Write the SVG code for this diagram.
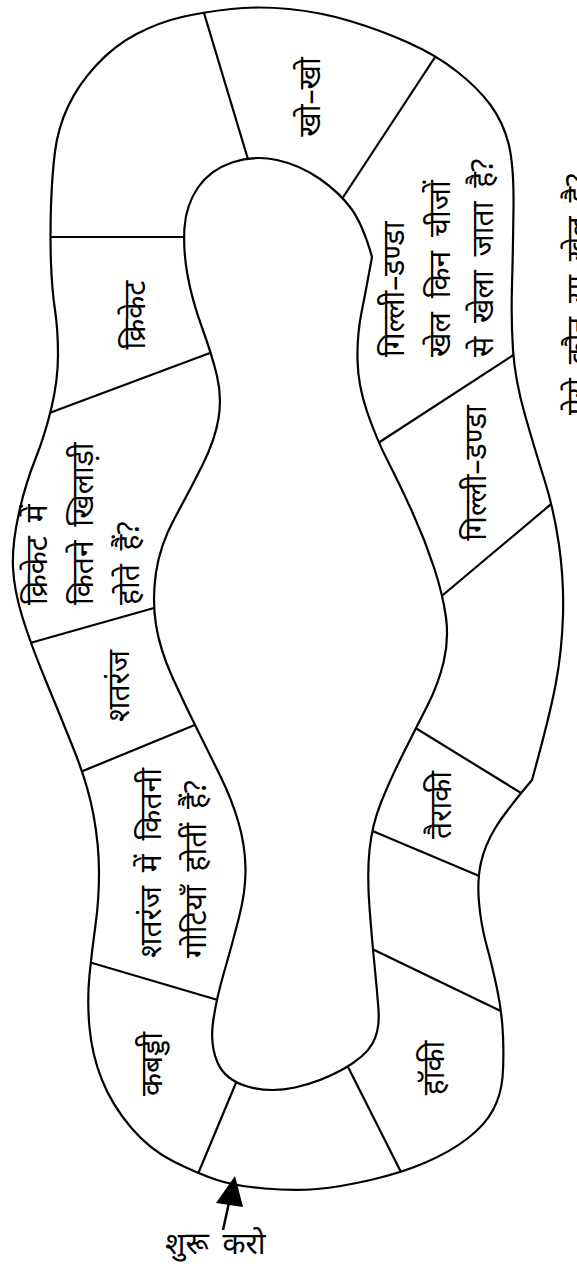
<svg xmlns="http://www.w3.org/2000/svg" width="577" height="1271" viewBox="0 0 577 1271">
<style>
.ln{fill:none;stroke:#000;stroke-width:2.2;stroke-linejoin:round;stroke-linecap:butt}
.isl{fill:#fff;stroke:#000;stroke-width:2.2;stroke-linejoin:round}
.t{font-family:"Noto Sans","DejaVu Sans",sans-serif;font-size:30px;word-spacing:6px;fill:#000}
.m{text-anchor:middle}
</style>
<defs>
<path id="outer" d="M 51,263.5 Q 50,237 51,206 Q 52,175 55,151.5 Q 58,128 68,106.5 Q 78,85 96.5,65 Q 115,45 137.5,33.5 Q 160,22 182,17 Q 204,12 231,9 Q 258,6 289,9 Q 320,12 350,21 Q 380,30 408,42.5 Q 436,55 457,71.5 Q 478,88 490.5,105 Q 503,122 508.5,143.5 Q 514,165 513.5,207.5 Q 513,250 512,285 Q 511,320 513,350 Q 515,380 525,415 Q 535,450 544.5,480 Q 554,510 559,545 Q 564,580 563,615 Q 562,650 556,682.5 Q 550,715 532,780 Q 505,812 495,828.5 Q 485,845 481,862.5 Q 477,880 479,902.5 Q 481,925 486.5,945 Q 492,965 497,988.5 Q 502,1012 503,1036 Q 504,1060 502.5,1077.5 Q 501,1095 493,1110 Q 485,1125 467.5,1138.5 Q 450,1152 425.5,1162.5 Q 401,1173 370.5,1180 Q 340,1187 317,1189 Q 294,1191 264.5,1188.5 Q 235,1186 217,1180 Q 199,1174 174.5,1162 Q 150,1150 131,1127.5 Q 112,1105 102,1080 Q 92,1055 89.5,1027.5 Q 87,1000 89.5,975 Q 92,950 95.5,925 Q 99,900 99,872.5 Q 99,845 93.5,815 Q 88,785 74,750 Q 60,715 45.5,680 Q 31,645 22.5,617.5 Q 14,590 13,567.5 Q 12,545 18.5,515 Q 25,485 35,460 Q 45,435 51.5,407.5 Q 58,380 58,355 Q 58,330 55,310 Q 52,290 51,263.5 Z"/>
<clipPath id="ring"><use href="#outer"/></clipPath>
</defs>
<rect width="577" height="1271" fill="#fff"/>
<g id="connectors" clip-path="url(#ring)" class="ln">
<line x1="40" y1="237" x2="195" y2="237"/>
<line x1="201" y1="3" x2="250" y2="166"/>
<line x1="441" y1="48" x2="338" y2="205"/>
<line x1="44" y1="415" x2="218" y2="350"/>
<line x1="23" y1="645" x2="161" y2="606"/>
<line x1="78" y1="773" x2="202" y2="722"/>
<line x1="82" y1="960" x2="228" y2="1003"/>
<line x1="195" y1="1181" x2="238" y2="1078"/>
<line x1="345" y1="1061" x2="405" y2="1180"/>
<line x1="368" y1="947" x2="509" y2="1015"/>
<line x1="363" y1="827" x2="484" y2="878"/>
<line x1="409" y1="724" x2="526" y2="796"/>
<line x1="437" y1="600" x2="556" y2="500"/>
<line x1="372" y1="447" x2="518" y2="352"/>
</g>
<g id="track">
<use href="#outer" class="ln"/>
<path id="island" class="isl" d="M 277,160 Q 300,165 320,179 Q 340,193 351.5,209 Q 363,225 372,257 Q 366,290 361.5,312.5 Q 357,335 357.5,360 Q 358,385 367,411.5 Q 376,438 388,461.5 Q 400,485 412.5,512.5 Q 425,540 434,567.5 Q 443,595 446,617.5 Q 449,640 443.5,662.5 Q 438,685 427,706.5 Q 416,728 403,754 Q 390,780 381,802.5 Q 372,825 369.5,850 Q 367,875 369.5,907.5 Q 372,940 374.5,965 Q 377,990 378.5,1010 Q 380,1030 372.5,1043.5 Q 365,1057 342.5,1069.5 Q 320,1082 295,1087.5 Q 270,1093 247.5,1086.5 Q 225,1080 217.5,1062.5 Q 210,1045 213,1022.5 Q 216,1000 224,972.5 Q 232,945 239,917.5 Q 246,890 245.5,867.5 Q 245,845 238.5,822.5 Q 232,800 221,777.5 Q 210,755 197.5,730 Q 185,705 172.5,677.5 Q 160,650 156,625 Q 152,600 156,572.5 Q 160,545 175,517.5 Q 190,490 202.5,465 Q 215,440 218.5,418.5 Q 222,397 217,376 Q 212,355 202,327.5 Q 192,300 187.5,275 Q 183,250 184.5,227.5 Q 186,205 198,187.5 Q 210,170 232,162.5 Q 254,155 277,160 Z"/>
</g>
<g id="cell-khokho"><text class="t m" transform="translate(320,97) rotate(-90)">खो–खो</text></g>
<g id="cell-cricket"><text class="t m" transform="translate(145,315) rotate(-90)">क्रिकेट</text></g>
<g id="cell-cricket-q"><text class="t" transform="translate(47,605) rotate(-90)"><tspan x="0" y="0">क्रिकेट में</tspan><tspan x="0" y="46">कितने खिलाड़ी</tspan><tspan x="0" y="92">होते हैं?</tspan></text></g>
<g id="cell-shatranj"><text class="t m" transform="translate(129,686) rotate(-90)">शतरंज</text></g>
<g id="cell-shatranj-q"><text class="t" transform="translate(161,958) rotate(-90)"><tspan x="0" y="0">शतरंज में कितनी</tspan><tspan x="0" y="45">गोटियाँ होतीं हैं?</tspan></text></g>
<g id="cell-kabaddi"><text class="t m" transform="translate(162,1064) rotate(-90)">कबड्डी</text></g>
<g id="cell-hockey"><text class="t m" transform="translate(444,1068) rotate(-90)">हॉकी</text></g>
<g id="cell-tairaki"><text class="t m" transform="translate(451,805) rotate(-90)">तैराकी</text></g>
<g id="cell-gilli"><text class="t m" transform="translate(486,473) rotate(-90)">गिल्ली–डण्डा</text></g>
<g id="cell-gilli-q"><text class="t" transform="translate(404,357) rotate(-90)"><tspan x="0" y="0">गिल्ली–डण्डा</tspan><tspan x="0" y="46">खेल किन चीजों</tspan><tspan x="0" y="89">से खेला जाता है?</tspan></text></g>
<g id="edge-note"><text class="t" transform="translate(588,415) rotate(-90)">ऐसे कौन सा खेल है?</text></g>
<g id="start">
<line x1="223" y1="1230" x2="230" y2="1198" stroke="#000" stroke-width="2.5"/>
<polygon points="235,1176 216,1203 243,1207" fill="#000"/>
<text class="t" x="165" y="1254">शुरू करो</text>
</g>
</svg>
